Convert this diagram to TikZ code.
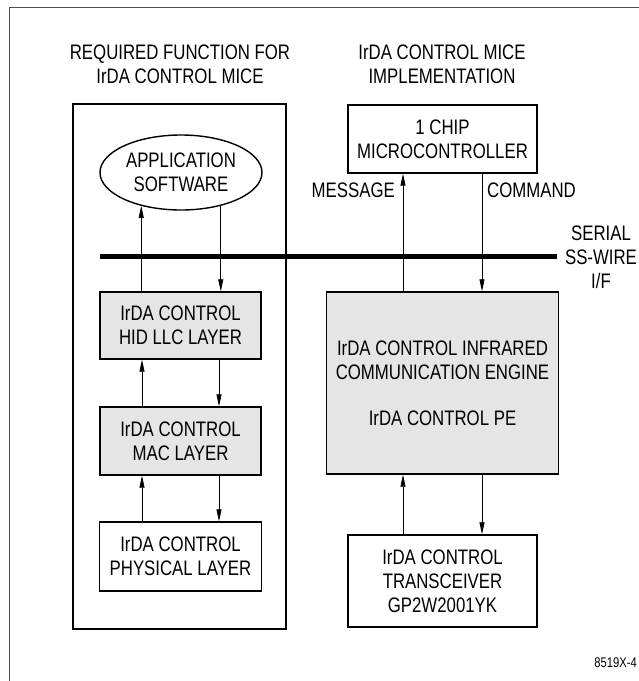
\documentclass[tikz,border=0pt]{standalone}
\usepackage{fontspec}
\setmainfont{Liberation Sans}[FakeStretch=0.8]
\usetikzlibrary{arrows.meta,shapes.geometric}

\begin{document}
\begin{tikzpicture}[x=1pt,y=-1pt,
  txt/.style={font=\fontsize{21}{24}\selectfont, align=center, inner sep=0pt},
  box/.style={txt, draw, line width=1.4pt, fill=white},
  shaded/.style={box, fill=gray!20},
  arr/.style={line width=0.8pt, -{Triangle[length=12pt,width=5pt]}},
  bus/.style={line width=5pt},
  frame/.style={black!70, line width=0.9pt}]
  \useasboundingbox (0,0) rectangle (639,681);

  % page frame (left and top edges)
  \coordinate (fbl) at (9,681);
  \coordinate (ftl) at (9,7);
  \coordinate (ftr) at (639,7);
  \draw[frame] (fbl) -- (ftl) -- (ftr);

  % column titles
  \node[txt] (ltitle) at (180,64.5) {REQUIRED FUNCTION FOR\\IrDA CONTROL MICE};
  \node[txt] (rtitle) at (442,64.5) {IrDA CONTROL MICE\\IMPLEMENTATION};

  % left column: protocol stack
  \node[box, minimum width=213, minimum height=525] (stack) at (179.5,366.5) {};
  \node[txt, draw, line width=1.4pt, ellipse, minimum width=162, minimum height=75]
    (app) at (181,172.5) {APPLICATION\\SOFTWARE};
  \node[shaded, minimum width=161, minimum height=67] (hid) at (180.5,325.5)
    {IrDA CONTROL\\HID LLC LAYER};
  \node[shaded, minimum width=161, minimum height=68] (mac) at (180.5,441)
    {IrDA CONTROL\\MAC LAYER};
  \node[box, minimum width=162, minimum height=69] (phy) at (180.5,556.5)
    {IrDA CONTROL\\PHYSICAL LAYER};

  % right column: implementation
  \node[box, minimum width=189, minimum height=68] (mcu) at (442.5,139)
    {1 CHIP\\MICROCONTROLLER};
  \node[shaded, minimum width=232, minimum height=182] (pe) at (442.5,383)
    {IrDA CONTROL INFRARED\\COMMUNICATION ENGINE\\[22pt]IrDA CONTROL PE};
  \node[box, minimum width=189, minimum height=92] (trx) at (442.5,581)
    {IrDA CONTROL\\TRANSCEIVER\\GP2W2001YK};

  % serial bus
  \coordinate (busl) at (100,256);
  \coordinate (busr) at (557,256);
  \draw[bus] (busl) -- (busr);
  \node[txt] (serial) at (601,257.5) {SERIAL\\SS-WIRE\\I/F};

  % left column connectors
  \draw[arr] (hid.north -| app.220) -- (app.220);
  \draw[arr] (app.320) -- (hid.north -| app.320);
  \draw[arr] ([xshift=-38.5pt]mac.north) -- ([xshift=-38.5pt]hid.south);
  \draw[arr] ([xshift=38.5pt]hid.south) -- ([xshift=38.5pt]mac.north);
  \draw[arr] ([xshift=-38.5pt]phy.north) -- ([xshift=-38.5pt]mac.south);
  \draw[arr] ([xshift=38.5pt]mac.south) -- ([xshift=38.5pt]phy.north);

  % right column connectors
  \draw[arr] ([xshift=-39.5pt]pe.north) -- ([xshift=-39.5pt]mcu.south);
  \draw[arr] ([xshift=39.5pt]mcu.south) -- ([xshift=39.5pt]pe.north);
  \draw[arr] ([xshift=-39.5pt]trx.north) -- ([xshift=-39.5pt]pe.south);
  \draw[arr] ([xshift=39.5pt]pe.south) -- ([xshift=39.5pt]trx.north);

  \node[txt, anchor=east] (msg) at (395,190) {MESSAGE};
  \node[txt, anchor=west] (cmd) at (487,190) {COMMAND};

  % figure number
  \node[txt, font=\fontsize{14}{16}\selectfont, anchor=east] (fig) at (637,663) {8519X-4};
\end{tikzpicture}
\end{document}
